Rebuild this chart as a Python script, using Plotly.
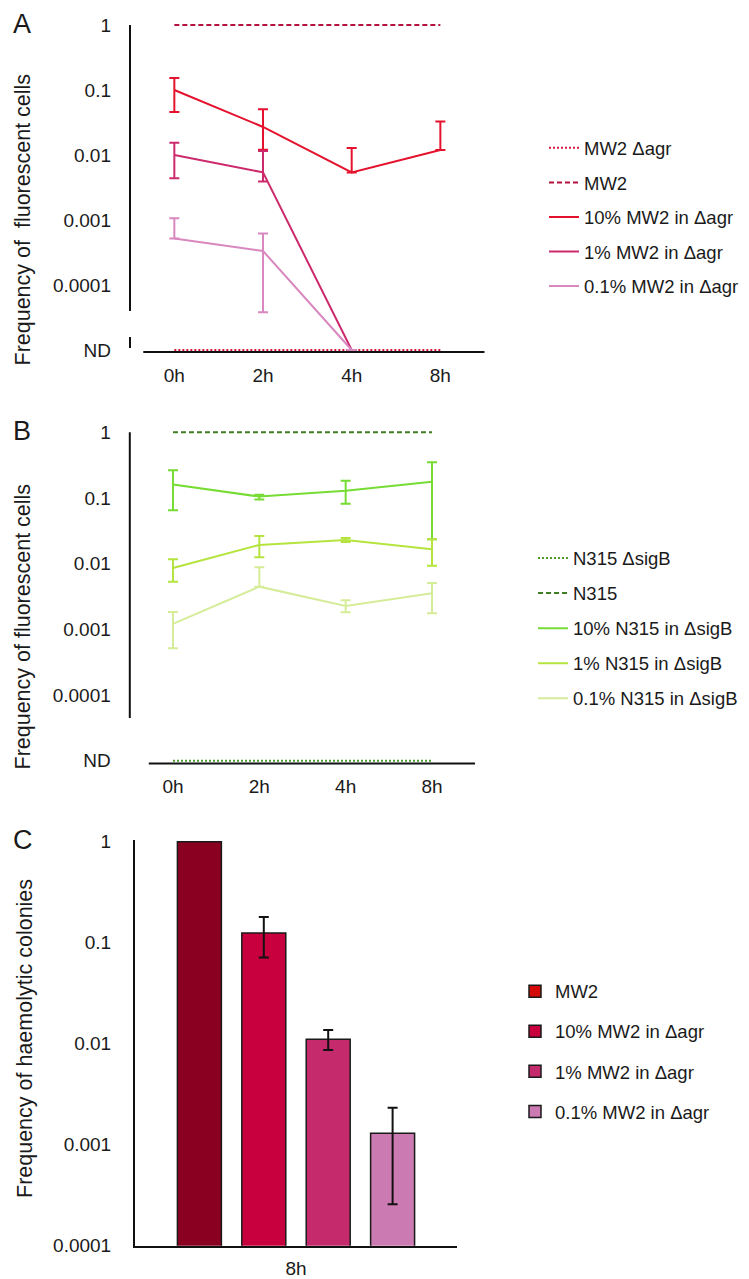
import plotly.graph_objects as go

W, H = 749, 1279
ND = 1e-5  # position used for "not detected"

times = ["0h", "2h", "4h", "8h"]
y_tickvals = [1, 0.1, 0.01, 0.001, 0.0001, ND]
y_ticktext = ["1", "0.1", "0.01", "0.001", "0.0001", "ND"]

# ---------------- Panel A (MW2 / Δagr) ----------------
a_names = ["MW2 Δagr", "MW2", "10% MW2 in Δagr", "1% MW2 in Δagr", "0.1% MW2 in Δagr"]
a_agr = [ND, ND, ND, ND]
a_mw2 = [1, 1, 1, 1]
a10 = [0.1, 0.027, 0.0054, 0.0119]
a10_hi = [0.153, 0.0505, 0.0128, 0.0327]
a10_lo = [0.046, 0.012, 0.0054, 0.0119]
a1 = [0.01, 0.0054, ND, None]
a1_hi = [0.0155, 0.0115, None, None]
a1_lo = [0.0044, 0.0039, None, None]
a01 = [0.00052, 0.000334, ND, None]
a01_hi = [0.00106, 0.00062, None, None]
a01_lo = [0.00052, 0.000038, None, None]

# ---------------- Panel B (N315 / ΔsigB) ----------------
b_names = ["N315 ΔsigB", "N315", "10% N315 in ΔsigB", "1% N315 in ΔsigB", "0.1% N315 in ΔsigB"]
b_sigb = [ND, ND, ND, ND]
b_n315 = [1, 1, 1, 1]
b10 = [0.161, 0.105, 0.129, 0.177]
b10_hi = [0.264, 0.112, 0.183, 0.349]
b10_lo = [0.065, 0.095, 0.082, 0.0235]
b1 = [0.0086, 0.0193, 0.0229, 0.0166]
b1_hi = [0.0117, 0.0264, 0.0245, 0.0235]
b1_lo = [0.0053, 0.0125, 0.0214, 0.0093]
b01 = [0.00121, 0.00447, 0.00227, 0.00355]
b01_hi = [0.00184, 0.0088, 0.00277, 0.00508]
b01_lo = [0.000515, 0.00447, 0.00182, 0.00176]

# ---------------- Panel C (haemolytic colonies) ----------------
c_cat = ["8h"]
c_names = ["MW2", "10% MW2 in Δagr", "1% MW2 in Δagr", "0.1% MW2 in Δagr"]
c_vals = [1, 0.125, 0.0111, 0.0013]
c_hi = [None, 0.18, 0.0137, 0.00232]
c_lo = [None, 0.0715, 0.00865, 0.000258]

A_COLORS = ["#d4173f", "#b3123c", "#e5122e", "#cc2a6c", "#d987bf"]
B_COLORS = ["#4f9a2c", "#3f7f22", "#76dc33", "#b5e43f", "#d5ec98"]
C_COLORS = ["#8a0020", "#c8003e", "#c42a6c", "#cc7ab2"]
C_LEGEND_COLORS = ["#d40a0a", "#c8003e", "#c42a6c", "#cc7ab2"]

FONT = "Liberation Sans, Arial, sans-serif"
TXT = "#1a1a1a"


def px_x(p):
    return p / W


def px_y(p):
    return 1 - p / H


def err(vals, hi, lo):
    plus, minus = [], []
    for v, h, l in zip(vals, hi, lo):
        if v is None or h is None:
            plus.append(None)
            minus.append(None)
        else:
            plus.append(h - v)
            minus.append(v - l)
    return plus, minus


fig = go.Figure()

line_styles = [dict(width=2, dash="2px,2px"), dict(width=2, dash="5px,3px"),
               dict(width=2), dict(width=2), dict(width=2)]

# Panel A traces
a_series = [(a_agr, None, None), (a_mw2, None, None), (a10, a10_hi, a10_lo),
            (a1, a1_hi, a1_lo), (a01, a01_hi, a01_lo)]
for i, (vals, hi, lo) in enumerate(a_series):
    kw = {}
    if hi is not None:
        plus, minus = err(vals, hi, lo)
        kw["error_y"] = dict(type="data", symmetric=False, array=plus, arrayminus=minus,
                             color=A_COLORS[i], thickness=2, width=5)
    fig.add_trace(go.Scatter(x=times, y=vals, mode="lines", name=a_names[i],
                             line=dict(color=A_COLORS[i], **line_styles[i]),
                             legend="legend", legendgroup="a%d" % i,
                             xaxis="x", yaxis="y", **kw))

# Panel B traces
b_series = [(b_sigb, None, None), (b_n315, None, None), (b10, b10_hi, b10_lo),
            (b1, b1_hi, b1_lo), (b01, b01_hi, b01_lo)]
for i, (vals, hi, lo) in enumerate(b_series):
    kw = {}
    if hi is not None:
        plus, minus = err(vals, hi, lo)
        kw["error_y"] = dict(type="data", symmetric=False, array=plus, arrayminus=minus,
                             color=B_COLORS[i], thickness=2, width=5)
    fig.add_trace(go.Scatter(x=times, y=vals, mode="lines", name=b_names[i],
                             line=dict(color=B_COLORS[i], **line_styles[i]),
                             legend="legend2", legendgroup="b%d" % i,
                             xaxis="x2", yaxis="y2", **kw))

# Panel C bars
for i, name in enumerate(c_names):
    kw = {}
    if c_hi[i] is not None:
        kw["error_y"] = dict(type="data", symmetric=False,
                             array=[c_hi[i] - c_vals[i]], arrayminus=[c_vals[i] - c_lo[i]],
                             color="#111111", thickness=2, width=5)
    fig.add_trace(go.Bar(x=c_cat, y=[c_vals[i]], name=name, showlegend=False,
                         marker=dict(color=C_COLORS[i], line=dict(color="#1a1a1a", width=1.5)),
                         legendgroup="c%d" % i,
                         xaxis="x3", yaxis="y3", **kw))
# Legend entries for panel C (swatch colours as shown in the original key)
for i, name in enumerate(c_names):
    fig.add_trace(go.Bar(x=[None], y=[None], name=name, showlegend=True,
                         marker=dict(color=C_LEGEND_COLORS[i], line=dict(color="#1a1a1a", width=1.5)),
                         legend="legend3", legendgroup="c%d" % i,
                         xaxis="x4", yaxis="y4", hoverinfo="skip"))

tickfont = dict(family=FONT, size=19, color=TXT)

common_x = dict(type="category", showgrid=False, zeroline=False, showline=False,
                ticks="", tickfont=tickfont, ticklabelstandoff=10, automargin=False)
common_y = dict(type="log", showgrid=False, zeroline=False, showline=False, ticks="",
                tickfont=tickfont, ticklabelstandoff=18, automargin=False)
legend_font = dict(family=FONT, size=18.5, color=TXT)

fig.update_layout(
    template="none",
    width=W, height=H,
    margin=dict(l=0, r=0, t=0, b=0, pad=0),
    paper_bgcolor="white", plot_bgcolor="white",
    font=dict(family=FONT, color=TXT),
    barmode="group", bargap=0.2, bargroupgap=0.317,
    # Panel A
    xaxis=dict(common_x, domain=[px_x(130), px_x(484.7)], range=[-0.5, 3.5], anchor="y"),
    yaxis=dict(common_y, domain=[px_y(351.95), px_y(21.75)], range=[-5.03, 0.05],
               tickvals=y_tickvals, ticktext=y_ticktext, anchor="x"),
    # Panel B
    xaxis2=dict(common_x, domain=[px_x(129.8), px_x(475.2)], range=[-0.5, 3.5], anchor="y2"),
    yaxis2=dict(common_y, domain=[px_y(763.4), px_y(429.0)], range=[-5.04, 0.05],
                tickvals=y_tickvals, ticktext=y_ticktext, anchor="x2"),
    # Panel C
    xaxis3=dict(common_x, domain=[px_x(135), px_x(457)], range=[-0.5, 0.5], anchor="y3",
                showline=True, linecolor="#111111", linewidth=2, ticklabelstandoff=4),
    yaxis3=dict(common_y, domain=[px_y(1245.7), px_y(839.7)], range=[-4, 0.02],
                tickvals=[1, 0.1, 0.01, 0.001, 0.0001],
                ticktext=["1", "0.1", "0.01", "0.001", "0.0001"], anchor="x3",
                showline=True, linecolor="#111111", linewidth=2),
    # hidden axes hosting the legend-only entries of panel C
    xaxis4=dict(visible=False, domain=[0.9, 0.91], anchor="y4", automargin=False),
    yaxis4=dict(visible=False, domain=[0.5, 0.51], anchor="x4", automargin=False),
    legend=dict(x=px_x(544), y=px_y(129.3), xanchor="left", yanchor="top",
                traceorder="grouped", tracegroupgap=7.5, bgcolor="rgba(0,0,0,0)",
                font=legend_font),
    legend2=dict(x=px_x(533), y=px_y(539.5), xanchor="left", yanchor="top",
                 traceorder="grouped", tracegroupgap=8, bgcolor="rgba(0,0,0,0)",
                 font=legend_font),
    legend3=dict(x=px_x(515), y=px_y(972.7), xanchor="left", yanchor="top",
                 traceorder="grouped", tracegroupgap=13, bgcolor="rgba(0,0,0,0)",
                 font=legend_font),
    showlegend=True,
)

# Axis lines for panels A and B (y axis broken before ND in panel A)
axis_line = dict(color="#111111", width=2)
shapes = [
    dict(type="line", xref="x domain", yref="y", x0=0, x1=0, y0=1, y1=10 ** -4.4, line=axis_line),
    dict(type="line", xref="x domain", yref="y", x0=0, x1=0, y0=10 ** -4.8, y1=10 ** -4.97, line=axis_line),
    dict(type="line", xref="x", yref="y domain", x0=-0.35, x1=3.5, y0=0, y1=0, line=axis_line),
    dict(type="line", xref="x2 domain", yref="y2", x0=0, x1=0, y0=1, y1=10 ** -4.35, line=axis_line),
    dict(type="line", xref="x2", yref="y2 domain", x0=-0.28, x1=3.5, y0=0, y1=0, line=axis_line),
]
fig.update_layout(shapes=shapes)

annotations = []
for letter, yc in [("A", 24), ("B", 430.5), ("C", 840)]:
    annotations.append(dict(text=letter, xref="paper", yref="paper", x=px_x(11), y=px_y(yc),
                            xanchor="left", yanchor="middle", showarrow=False,
                            font=dict(family=FONT, size=27, color=TXT)))
for title, xc, yc in [("Frequency of  fluorescent cells", 22.5, 220),
                      ("Frequency of fluorescent cells", 22.5, 627),
                      ("Frequency of haemolytic colonies", 25, 1039)]:
    annotations.append(dict(text=title, xref="paper", yref="paper", x=px_x(xc), y=px_y(yc),
                            xanchor="center", yanchor="middle", textangle=-90, showarrow=False,
                            font=dict(family=FONT, size=21.5, color=TXT)))
fig.update_layout(annotations=annotations)

fig.write_html("out.html", config={"displayModeBar": False},
               post_script=("document.body.style.margin='0';"
                            "document.body.style.overflow='hidden';"
                            "document.documentElement.style.overflow='hidden';"))
